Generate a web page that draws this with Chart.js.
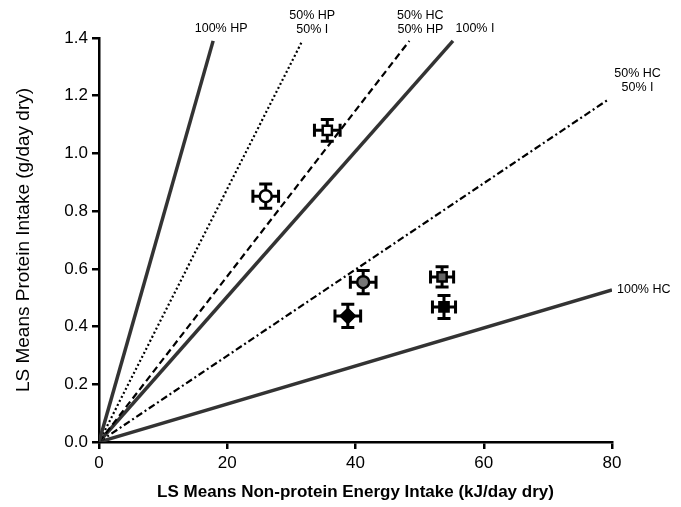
<!DOCTYPE html>
<html><head><meta charset="utf-8">
<script src="https://cdn.jsdelivr.net/npm/chart.js@4/dist/chart.umd.min.js"></script>
<style>html,body{margin:0;padding:0;background:#fff}#wrap{width:681px;height:507px}</style>
</head><body><div id="wrap"><canvas id="c" width="681" height="507"></canvas></div>
<script>
// Diet reference lines (end points, start at origin)
const lineNames = ["100% HP", "50% HP\n50% I", "50% HC\n50% HP", "100% I", "50% HC\n50% I", "100% HC"];
const lineEndX = [17.8, 31.7, 48.4, 55.2, 79.3, 80];
const lineEndY = [1.39, 1.39, 1.39, 1.39, 1.185, 0.527];
// Treatment means
const ptX = [35.6, 26.0, 41.2, 38.8, 53.5, 53.8];
const ptY = [1.08, 0.852, 0.554, 0.437, 0.572, 0.468];
const ptXErr = [2.0, 2.0, 2.0, 2.0, 1.8, 1.8];
const ptYErr = [0.038, 0.042, 0.04, 0.04, 0.035, 0.04];
const ptStyle = ["rect", "circle", "circle", "rectRot", "rect", "rect"];
const ptFill = ["#ffffff", "#ffffff", "#777777", "#000000", "#666666", "#000000"];

const lineStyles = [
  {color:"#333", width:3.5, dash:[]},
  {color:"#000", width:2.2, dash:[2,2.5]},
  {color:"#000", width:2.2, dash:[7,4]},
  {color:"#333", width:3.5, dash:[]},
  {color:"#000", width:2.2, dash:[7,3,2,3]},
  {color:"#333", width:3.5, dash:[]}
];
const labelOff = [[8,-12],[10,-11],[11,-11],[22,-12],[30,-12],[5,0]];
const labelAlign = ["center","center","center","center","center","left"];

const datasets = lineNames.map((n,i)=>({
  type:'line', label:n, data:[{x:0,y:0},{x:lineEndX[i],y:lineEndY[i]}],
  borderColor:lineStyles[i].color, borderWidth:lineStyles[i].width, borderDash:lineStyles[i].dash,
  pointRadius:0, fill:false, order:2
}));
datasets.push({
  type:'scatter', label:'means', data: ptX.map((x,i)=>({x:x,y:ptY[i]})),
  pointStyle: ptStyle, backgroundColor: ptFill, borderColor:"#000", borderWidth:2.5,
  pointRadius: [6.5,6,6,7,6.5,6.5], order:1
});

const errPlugin = {
  id:'err',
  beforeDatasetsDraw(chart){
    const {ctx, scales:{x, y}} = chart;
    ctx.save(); ctx.strokeStyle="#000"; ctx.lineWidth=3;
    ptX.forEach((vx,i)=>{
      const px=x.getPixelForValue(vx), py=y.getPixelForValue(ptY[i]);
      const x1=x.getPixelForValue(vx-ptXErr[i]), x2=x.getPixelForValue(vx+ptXErr[i]);
      const y1=y.getPixelForValue(ptY[i]-ptYErr[i]), y2=y.getPixelForValue(ptY[i]+ptYErr[i]);
      const c=6.5;
      ctx.beginPath();
      ctx.moveTo(x1,py); ctx.lineTo(x2,py);
      ctx.moveTo(x1,py-c); ctx.lineTo(x1,py+c);
      ctx.moveTo(x2,py-c); ctx.lineTo(x2,py+c);
      ctx.moveTo(px,y1); ctx.lineTo(px,y2);
      ctx.moveTo(px-c,y1); ctx.lineTo(px+c,y1);
      ctx.moveTo(px-c,y2); ctx.lineTo(px+c,y2);
      ctx.stroke();
    });
    ctx.restore();
  },
  afterDraw(chart){
    const {ctx, scales:{x, y}} = chart;
    ctx.save(); ctx.fillStyle="#000"; ctx.font="12.5px 'Liberation Sans', Arial, sans-serif";
    ctx.textBaseline="middle";
    lineNames.forEach((n,i)=>{
      const px=x.getPixelForValue(lineEndX[i])+labelOff[i][0];
      const py=y.getPixelForValue(lineEndY[i])+labelOff[i][1];
      ctx.textAlign=labelAlign[i];
      const parts=n.split("\n");
      parts.forEach((p,k)=>{
        ctx.fillText(p, px, py-(parts.length-1-k)*14);
      });
    });
    ctx.restore();
  }
};

new Chart(document.getElementById('c'), {
  data:{datasets},
  options:{
    responsive:false, animation:false,
    layout:{padding:{top:38,right:69,left:0,bottom:0}},
    plugins:{legend:{display:false}, tooltip:{enabled:false}},
    scales:{
      x:{type:'linear', min:0, max:80,
        ticks:{stepSize:20, color:"#000", font:{family:"'Liberation Sans', Arial", size:17}, padding:4},
        grid:{drawOnChartArea:false, drawTicks:true, tickLength:7, color:"#000", lineWidth:2.5},
        border:{display:true, color:"#000", width:2.5},
        title:{display:true, text:"LS Means Non-protein Energy Intake (kJ/day dry)", color:"#000",
          font:{family:"'Liberation Sans', Arial", size:17, weight:'bold'}, padding:{top:10,bottom:4}},
        afterFit(s){ s.height = 65; }
      },
      y:{type:'linear', min:0, max:1.4,
        ticks:{stepSize:0.2, color:"#000", font:{family:"'Liberation Sans', Arial", size:17}, padding:4,
          callback:(v)=>Number(v).toFixed(1)},
        grid:{drawOnChartArea:false, drawTicks:true, tickLength:7, color:"#000", lineWidth:2.5},
        border:{display:true, color:"#000", width:2.5},
        title:{display:true, text:"LS Means Protein Intake (g/day dry)", color:"#000",
          font:{family:"'Liberation Sans', Arial", size:19}, padding:{top:12,bottom:0}},
        afterFit(s){ s.width = 99; }
      }
    }
  },
  plugins:[errPlugin]
});
</script></body></html>
